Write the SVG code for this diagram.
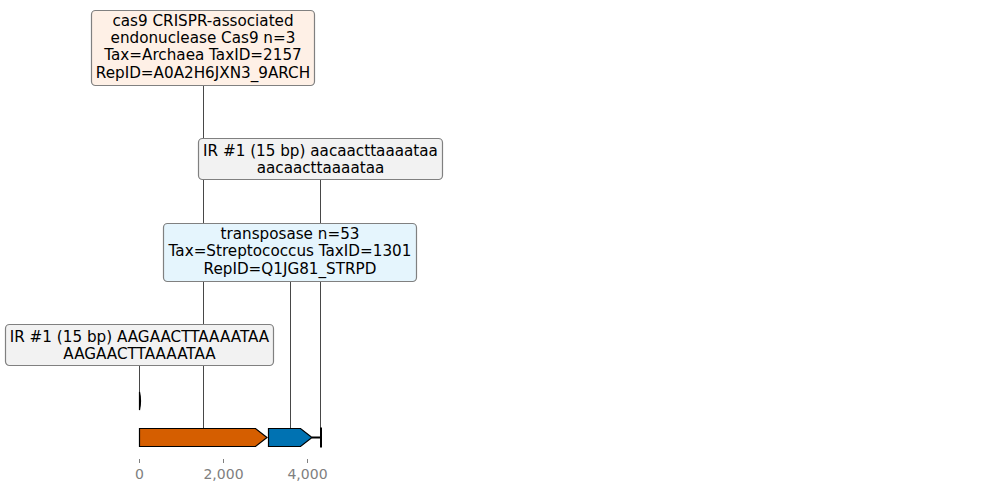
<svg xmlns="http://www.w3.org/2000/svg" width="989" height="492" viewBox="0 0 989 492">
<style>
.lbl{font-family:"DejaVu Sans",sans-serif;font-size:15.2px;fill:#000;text-anchor:middle}
.box{stroke:#808080;stroke-width:1.2}
.conn{stroke:#333;stroke-width:0.9;fill:none}
.tick{font-family:"DejaVu Sans",sans-serif;font-size:14px;fill:#808080;text-anchor:middle}
.feat{stroke:#000;stroke-width:1.2}
</style>
<rect width="989" height="492" fill="#fff"/>
<g id="connectors">
<line class="conn" x1="203.5" y1="85" x2="203.5" y2="428"/>
<line class="conn" x1="320.5" y1="179" x2="320.5" y2="430"/>
<line class="conn" x1="290.5" y1="281" x2="290.5" y2="428"/>
<line class="conn" x1="139.5" y1="365" x2="139.5" y2="393"/>
</g>
<g id="axis">
<line x1="139.5" y1="459" x2="139.5" y2="463" stroke="#808080" stroke-width="1"/>
<line x1="223.5" y1="459" x2="223.5" y2="463" stroke="#808080" stroke-width="1"/>
<line x1="307.5" y1="459" x2="307.5" y2="463" stroke="#808080" stroke-width="1"/>
<text class="tick" x="139.5" y="479">0</text>
<text class="tick" x="223.5" y="479">2,000</text>
<text class="tick" x="307.5" y="479">4,000</text>
</g>
<g id="features">
<path d="M139.5,392 Q141.5,401 139.5,410 Z" fill="#000" stroke="#000" stroke-width="1.2"/>
<polygon class="feat" points="139.5,428.5 255.5,428.5 267,437.5 255.5,446.5 139.5,446.5" fill="#d55e00"/>
<polygon class="feat" points="268.5,428.5 300.5,428.5 312,437.5 300.5,446.5 268.5,446.5" fill="#0072b2"/>
<line x1="312" y1="437.5" x2="321" y2="437.5" stroke="#000" stroke-width="2"/>
<line x1="321" y1="427.5" x2="321" y2="447.5" stroke="#000" stroke-width="2"/>
</g>
<g id="node-cas9">
<rect class="box" x="91.5" y="10.5" width="223" height="75" rx="4" fill="#fef0e6"/>
<text class="lbl" x="203" y="25.5">cas9 CRISPR-associated</text>
<text class="lbl" x="203" y="42.9">endonuclease Cas9 n=3</text>
<text class="lbl" x="203" y="60.3">Tax=Archaea TaxID=2157</text>
<text class="lbl" x="203" y="77.7">RepID=A0A2H6JXN3_9ARCH</text>
</g>
<g id="node-ir-lower">
<rect class="box" x="198.5" y="138.5" width="244" height="41" rx="4" fill="#f2f2f2"/>
<text class="lbl" x="320.5" y="155.5">IR #1 (15 bp) aacaacttaaaataa</text>
<text class="lbl" x="320.5" y="172.9">aacaacttaaaataa</text>
</g>
<g id="node-transposase">
<rect class="box" x="163.5" y="223.5" width="253" height="58" rx="4" fill="#e5f5fd"/>
<text class="lbl" x="290" y="239">transposase n=53</text>
<text class="lbl" x="290" y="256.4">Tax=Streptococcus TaxID=1301</text>
<text class="lbl" x="290" y="273.8">RepID=Q1JG81_STRPD</text>
</g>
<g id="node-ir-upper">
<rect class="box" x="5.5" y="324.5" width="268" height="41" rx="4" fill="#f2f2f2"/>
<text class="lbl" x="139.5" y="341.5">IR #1 (15 bp) AAGAACTTAAAATAA</text>
<text class="lbl" x="139.5" y="358.9">AAGAACTTAAAATAA</text>
</g>
</svg>
